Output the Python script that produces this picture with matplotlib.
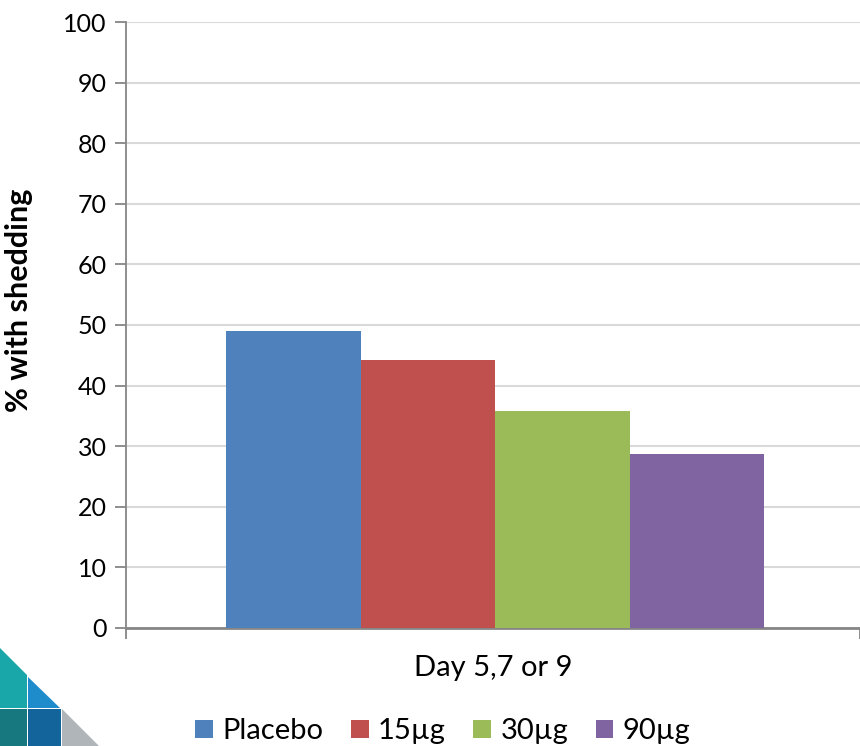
import numpy as np
import matplotlib.pyplot as plt
from matplotlib.patches import Polygon, Patch

plt.rcParams["font.family"] = ["Lato", "DejaVu Sans"]

groups = ["Placebo", "15µg", "30µg", "90µg"]
values = [49.0, 44.2, 35.8, 28.7]
colors = ["#4F81BD", "#C0504D", "#9BBB59", "#8064A2"]
category = "Day 5,7 or 9"
yticks = [0, 10, 20, 30, 40, 50, 60, 70, 80, 90, 100]

fig = plt.figure(figsize=(8.6, 7.46), dpi=100)
ax = fig.add_axes([0.1465, 0.1582, 0.8535, 0.8123])

width = 0.1832
offsets = (np.arange(len(groups)) - (len(groups) - 1) / 2) * width
for off, v, c, g in zip(offsets, values, colors, groups):
    ax.bar(off, v, width=width, color=c, label=g, zorder=3)

ax.set_xlim(-0.503, 0.497)
ax.set_ylim(0, 100)
ax.set_yticks(yticks)
ax.set_xticks([-0.503, 0.497])
ax.set_xticklabels(["", ""])
ax.yaxis.grid(True, color="#D9D9D9", linewidth=1.5, zorder=0)
for s in ["top", "right"]:
    ax.spines[s].set_visible(False)
ax.spines["left"].set_color("#868686")
ax.spines["bottom"].set_color("#868686")
ax.spines["left"].set_linewidth(1.3)
ax.spines["bottom"].set_linewidth(2)
ax.tick_params(axis="y", colors="#868686", labelcolor="black", labelsize=18, length=8, width=1.3, pad=6)
ax.tick_params(axis="x", colors="#868686", length=8, width=1.3)

ax.set_ylabel("% with shedding", fontsize=22, fontweight="bold")
ax.yaxis.set_label_coords(-0.127, 0.541)
fig.text(0.573, 0.1046, category, ha="center", va="center", fontsize=21)

handles = [Patch(facecolor=c, label=g) for c, g in zip(colors, groups)]
fig.legend(handles=handles, loc="center", bbox_to_anchor=(0.515, 0.02), ncol=4, frameon=False,
           fontsize=21, handlelength=0.6, handleheight=0.6, handletextpad=0.32, columnspacing=0.95)

# decorative logo in the lower left corner (pixel coords -> figure fraction)
W, H = 860, 746
def poly(pts, color):
    fig.patches.append(Polygon([(x / W, 1 - y / H) for x, y in pts], closed=True,
                               facecolor=color, edgecolor="none", transform=fig.transFigure))
poly([(0, 648), (27, 675), (27, 708), (0, 708)], "#1AA7A9")
poly([(28, 677), (60, 708), (28, 708)], "#1E8BCB")
poly([(0, 709), (27, 709), (27, 746), (0, 746)], "#17797F")
poly([(28, 709), (61, 709), (61, 746), (28, 746)], "#12649A")
poly([(62, 709), (99, 746), (62, 746)], "#B0B5BA")

fig.savefig("out.png", dpi=100)
